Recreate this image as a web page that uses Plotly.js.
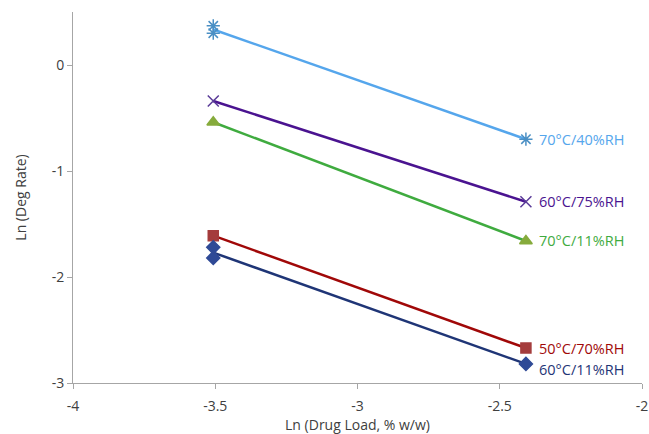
<!DOCTYPE html>
<html>
<head>
<meta charset="utf-8">
<script src="https://cdn.plot.ly/plotly-3.0.1.min.js"></script>
<style>html,body{margin:0;padding:0;background:#fff;}#chart{width:649px;height:434px;}</style>
</head>
<body>
<div id="chart"></div>
<script>
// Ln(drug load) for the 3% and 9% w/w formulations
const xLow = -3.507;
const xHigh = -2.408;

const seriesNames = ["70°C/40%RH", "60°C/75%RH", "70°C/11%RH", "50°C/70%RH", "60°C/11%RH"];
const seriesX = [
  [xLow, xLow, xHigh],
  [xLow, xHigh],
  [xLow, xHigh],
  [xLow, xHigh],
  [xLow, xLow, xHigh]
];
const seriesY = [
  [0.37, 0.30, -0.70],
  [-0.34, -1.29],
  [-0.54, -1.66],
  [-1.61, -2.67],
  [-1.72, -1.82, -2.82]
];

// Axis ticks, written with a plain hyphen
const xTickVals = [-4, -3.5, -3, -2.5, -2];
const xTickText = ["-4", "-3.5", "-3", "-2.5", "-2"];
const yTickVals = [-3, -2, -1, 0];
const yTickText = ["-3", "-2", "-1", "0"];

const markerSymbols = ["asterisk-open", "x-thin-open", "triangle-up", "square", "diamond"];
const markerColors = ["#4a8fc4", "#5a3b98", "#86ab3c", "#a43c3c", "#2f4a96"];
const lineColors = ["#55a6ec", "#4a1390", "#3fab3f", "#a00808", "#1f3576"];
const markerSizes = [11, 11, 11, 10, 10];
const labelShiftY = [0, 0, 0, 0, 6];

function fit(xs, ys) {
  const n = xs.length;
  const mx = xs.reduce((a, b) => a + b, 0) / n;
  const my = ys.reduce((a, b) => a + b, 0) / n;
  let sxy = 0, sxx = 0;
  for (let i = 0; i < n; i++) { sxy += (xs[i] - mx) * (ys[i] - my); sxx += (xs[i] - mx) ** 2; }
  const m = sxy / sxx;
  return x => my + m * (x - mx);
}

const traces = [];
const annotations = [];
seriesNames.forEach((name, i) => {
  const f = fit(seriesX[i], seriesY[i]);
  traces.push({
    x: [xLow, xHigh], y: [f(xLow), f(xHigh)],
    mode: "lines", line: {color: lineColors[i], width: 2.5},
    hoverinfo: "skip", showlegend: false, cliponaxis: false
  });
  traces.push({
    x: seriesX[i], y: seriesY[i], mode: "markers", name: name,
    marker: {symbol: markerSymbols[i], size: markerSizes[i], color: markerColors[i],
             line: {color: markerColors[i], width: 1.5}},
    showlegend: false, cliponaxis: false
  });
  const yLast = seriesY[i][seriesY[i].length - 1];
  annotations.push({
    x: xHigh, y: yLast, xref: "x", yref: "y", text: name, showarrow: false,
    xanchor: "left", yanchor: "middle", xshift: 11, yshift: -labelShiftY[i],
    font: {family: "Open Sans, Noto Sans, sans-serif", size: 14.5, color: lineColors[i]}
  });
});

const layout = {
  width: 649, height: 434,
  margin: {l: 73, r: 7, t: 12, b: 51},
  paper_bgcolor: "#fff", plot_bgcolor: "#fff",
  font: {family: "Open Sans, Noto Sans, sans-serif", size: 14, color: "#404040"},
  xaxis: {
    range: [-4, -2], tickmode: "array", tickvals: xTickVals, ticktext: xTickText,
    showgrid: false, zeroline: false,
    showline: true, linecolor: "#a6a6a6", linewidth: 1,
    ticks: "outside", ticklen: 5, tickcolor: "#a6a6a6",
    ticklabelstandoff: 5, ticklabeloverflow: "allow",
    tickfont: {size: 14, color: "#404040"},
    title: {text: "Ln (Drug Load, % w/w)", font: {size: 14, color: "#404040"}, standoff: 17}
  },
  yaxis: {
    range: [-3, 0.5], tickmode: "array", tickvals: yTickVals, ticktext: yTickText,
    showgrid: false, zeroline: false,
    showline: true, linecolor: "#a6a6a6", linewidth: 1,
    ticks: "outside", ticklen: 5, tickcolor: "#a6a6a6",
    tickfont: {size: 14, color: "#404040"},
    title: {text: "Ln (Deg Rate)", font: {size: 14, color: "#404040"}, standoff: 21}
  },
  annotations: annotations
};

Plotly.newPlot("chart", traces, layout, {displayModeBar: false, staticPlot: true});
</script>
</body>
</html>
